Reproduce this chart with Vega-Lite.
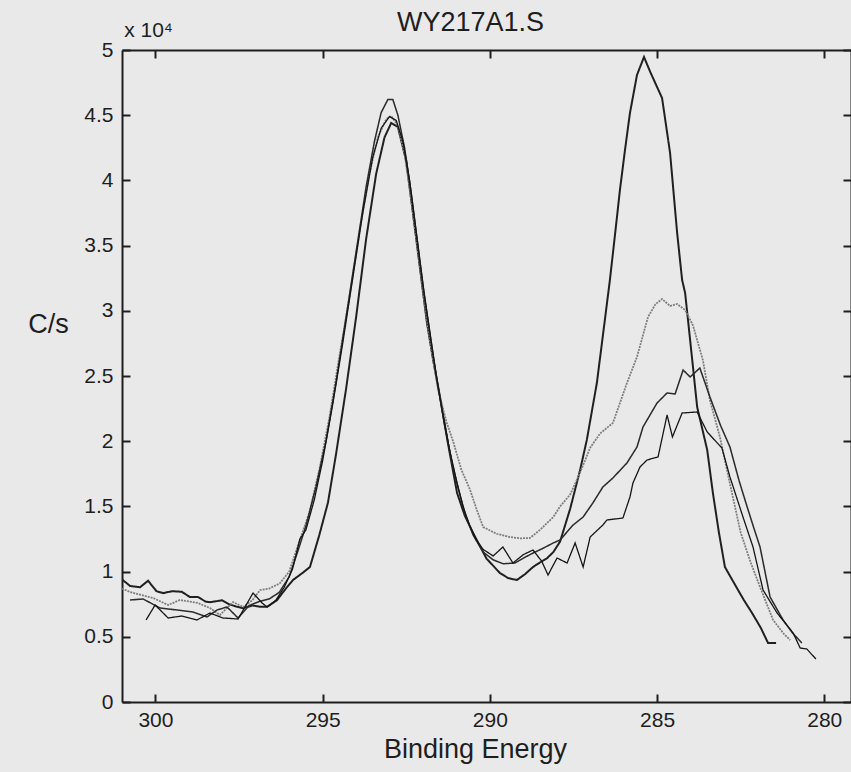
{
  "$schema": "https://vega.github.io/schema/vega-lite/v6.json",
  "width": 729,
  "height": 652,
  "autosize": "none",
  "padding": {"left": 122, "top": 50, "right": 0, "bottom": 70},
  "background": "#e9e9e9",
  "title": {"text": "WY217A1.S", "font": "Liberation Sans", "fontSize": 27, "fontWeight": "normal", "color": "#1e1e1e", "anchor": "middle", "frame": "group", "dx": -16, "dy": 22},
  "config": {
    "view": {"stroke": null},
    "axis": {"grid": false, "domainColor": "#1e1e1e", "domainWidth": 2, "tickColor": "#1e1e1e", "tickWidth": 2, "tickSize": -8, "labelFont": "Liberation Sans", "labelFontSize": 21, "labelColor": "#1e1e1e", "titleFont": "Liberation Sans", "titleFontWeight": "normal", "titleColor": "#1e1e1e"}
  },
  "data": {"values": [
    {"s":"A","e":301.0,"c":9400},{"s":"A","e":300.76,"c":8900},{"s":"A","e":300.46,"c":8800},{"s":"A","e":300.22,"c":9300},{"s":"A","e":299.97,"c":8500},{"s":"A","e":299.77,"c":8350},{"s":"A","e":299.5,"c":8500},{"s":"A","e":299.21,"c":8450},{"s":"A","e":298.97,"c":8050},{"s":"A","e":298.73,"c":8050},{"s":"A","e":298.5,"c":7700},{"s":"A","e":298.37,"c":7650},{"s":"A","e":298.01,"c":7800},{"s":"A","e":297.8,"c":7500},{"s":"A","e":297.56,"c":7300},{"s":"A","e":297.38,"c":7200},{"s":"A","e":297.1,"c":7400},{"s":"A","e":296.85,"c":7300},{"s":"A","e":296.66,"c":7300},{"s":"A","e":296.37,"c":7800},{"s":"A","e":296.1,"c":8700},{"s":"A","e":295.89,"c":9350},{"s":"A","e":295.6,"c":9900},{"s":"A","e":295.38,"c":10350},{"s":"A","e":295.1,"c":12800},{"s":"A","e":294.84,"c":15300},{"s":"A","e":294.6,"c":19000},{"s":"A","e":294.3,"c":24000},{"s":"A","e":294.0,"c":29500},{"s":"A","e":293.7,"c":35500},{"s":"A","e":293.4,"c":40500},{"s":"A","e":293.15,"c":43300},{"s":"A","e":292.95,"c":44400},{"s":"A","e":292.75,"c":44100},{"s":"A","e":292.5,"c":41500},{"s":"A","e":292.2,"c":35500},{"s":"A","e":291.88,"c":29070},{"s":"A","e":291.7,"c":26300},{"s":"A","e":291.49,"c":23390},{"s":"A","e":291.25,"c":19800},{"s":"A","e":290.98,"c":16030},{"s":"A","e":290.75,"c":14300},{"s":"A","e":290.5,"c":12960},{"s":"A","e":290.1,"c":11000},{"s":"A","e":289.7,"c":9893},{"s":"A","e":289.45,"c":9500},{"s":"A","e":289.19,"c":9356},{"s":"A","e":288.95,"c":9800},{"s":"A","e":288.71,"c":10353},{"s":"A","e":288.5,"c":10700},{"s":"A","e":288.3,"c":11000},{"s":"A","e":288.1,"c":11500},{"s":"A","e":287.9,"c":12300},{"s":"A","e":287.6,"c":14800},{"s":"A","e":287.3,"c":17800},{"s":"A","e":287.1,"c":20100},{"s":"A","e":286.8,"c":24460},{"s":"A","e":286.6,"c":28500},{"s":"A","e":286.41,"c":32360},{"s":"A","e":286.25,"c":36000},{"s":"A","e":286.11,"c":39265},{"s":"A","e":285.95,"c":42500},{"s":"A","e":285.81,"c":45170},{"s":"A","e":285.6,"c":48085},{"s":"A","e":285.39,"c":49465},{"s":"A","e":285.2,"c":48300},{"s":"A","e":285.0,"c":47164},{"s":"A","e":284.85,"c":46320},{"s":"A","e":284.61,"c":42100},{"s":"A","e":284.4,"c":36000},{"s":"A","e":284.25,"c":32360},{"s":"A","e":284.16,"c":31370},{"s":"A","e":284.0,"c":27500},{"s":"A","e":283.8,"c":22620},{"s":"A","e":283.5,"c":19330},{"s":"A","e":283.33,"c":16030},{"s":"A","e":283.15,"c":13000},{"s":"A","e":282.97,"c":10350},{"s":"A","e":282.63,"c":8820},{"s":"A","e":282.4,"c":7800},{"s":"A","e":282.16,"c":6830},{"s":"A","e":281.9,"c":5700},{"s":"A","e":281.68,"c":4525},{"s":"A","e":281.44,"c":4525},
    {"s":"B","e":301.0,"c":8700},{"s":"B","e":300.76,"c":8436},{"s":"B","e":300.4,"c":8200},{"s":"B","e":300.07,"c":7976},{"s":"B","e":299.62,"c":7439},{"s":"B","e":299.27,"c":7822},{"s":"B","e":298.73,"c":7592},{"s":"B","e":298.37,"c":7209},{"s":"B","e":298.07,"c":6672},{"s":"B","e":297.68,"c":7669},{"s":"B","e":297.38,"c":7286},{"s":"B","e":297.1,"c":7800},{"s":"B","e":296.87,"c":8589},{"s":"B","e":296.6,"c":8700},{"s":"B","e":296.28,"c":9100},{"s":"B","e":296.0,"c":10000},{"s":"B","e":295.7,"c":12300},{"s":"B","e":295.4,"c":14500},{"s":"B","e":295.1,"c":17800},{"s":"B","e":294.8,"c":21800},{"s":"B","e":294.5,"c":26500},{"s":"B","e":294.2,"c":31000},{"s":"B","e":293.9,"c":36000},{"s":"B","e":293.6,"c":40500},{"s":"B","e":293.35,"c":43300},{"s":"B","e":293.1,"c":44700},{"s":"B","e":292.95,"c":44940},{"s":"B","e":292.75,"c":44200},{"s":"B","e":292.55,"c":42000},{"s":"B","e":292.35,"c":38500},{"s":"B","e":292.15,"c":34500},{"s":"B","e":291.95,"c":30500},{"s":"B","e":291.75,"c":27000},{"s":"B","e":291.55,"c":24000},{"s":"B","e":291.3,"c":21500},{"s":"B","e":291.1,"c":20000},{"s":"B","e":290.85,"c":17800},{"s":"B","e":290.59,"c":16260},{"s":"B","e":290.4,"c":14800},{"s":"B","e":290.2,"c":13420},{"s":"B","e":289.8,"c":12900},{"s":"B","e":289.4,"c":12650},{"s":"B","e":289.1,"c":12550},{"s":"B","e":288.8,"c":12580},{"s":"B","e":288.5,"c":13200},{"s":"B","e":288.1,"c":14190},{"s":"B","e":287.9,"c":15000},{"s":"B","e":287.6,"c":15900},{"s":"B","e":287.3,"c":17600},{"s":"B","e":287.0,"c":19500},{"s":"B","e":286.7,"c":20600},{"s":"B","e":286.32,"c":21397},{"s":"B","e":286.1,"c":23000},{"s":"B","e":285.9,"c":24464},{"s":"B","e":285.6,"c":26458},{"s":"B","e":285.27,"c":29526},{"s":"B","e":285.05,"c":30500},{"s":"B","e":284.85,"c":30906},{"s":"B","e":284.61,"c":30370},{"s":"B","e":284.4,"c":30523},{"s":"B","e":284.16,"c":30062},{"s":"B","e":283.93,"c":28912},{"s":"B","e":283.63,"c":26228},{"s":"B","e":283.42,"c":23160},{"s":"B","e":283.12,"c":20323},{"s":"B","e":282.8,"c":16500},{"s":"B","e":282.5,"c":13000},{"s":"B","e":282.2,"c":10700},{"s":"B","e":281.92,"c":8819},{"s":"B","e":281.53,"c":6289},{"s":"B","e":281.2,"c":5200},{"s":"B","e":281.02,"c":4755},
    {"s":"C","e":300.76,"c":7822},{"s":"C","e":300.37,"c":7899},{"s":"C","e":299.86,"c":7209},{"s":"C","e":299.36,"c":7055},{"s":"C","e":298.88,"c":6902},{"s":"C","e":298.46,"c":6519},{"s":"C","e":298.16,"c":7055},{"s":"C","e":297.86,"c":7286},{"s":"C","e":297.53,"c":6442},{"s":"C","e":297.2,"c":7400},{"s":"C","e":296.9,"c":7700},{"s":"C","e":296.6,"c":7900},{"s":"C","e":296.3,"c":8400},{"s":"C","e":296.0,"c":9600},{"s":"C","e":295.75,"c":11500},{"s":"C","e":295.5,"c":13500},{"s":"C","e":295.2,"c":16500},{"s":"C","e":294.9,"c":20000},{"s":"C","e":294.6,"c":24500},{"s":"C","e":294.3,"c":29500},{"s":"C","e":294.0,"c":34500},{"s":"C","e":293.7,"c":39500},{"s":"C","e":293.45,"c":43000},{"s":"C","e":293.25,"c":45200},{"s":"C","e":293.05,"c":46200},{"s":"C","e":292.9,"c":46200},{"s":"C","e":292.75,"c":45000},{"s":"C","e":292.55,"c":42500},{"s":"C","e":292.35,"c":39000},{"s":"C","e":292.15,"c":35000},{"s":"C","e":291.95,"c":31000},{"s":"C","e":291.75,"c":27500},{"s":"C","e":291.55,"c":24200},{"s":"C","e":291.35,"c":21200},{"s":"C","e":291.15,"c":18600},{"s":"C","e":290.95,"c":16400},{"s":"C","e":290.75,"c":14500},{"s":"C","e":290.5,"c":12800},{"s":"C","e":290.2,"c":11500},{"s":"C","e":289.9,"c":10900},{"s":"C","e":289.6,"c":10600},{"s":"C","e":289.25,"c":10660},{"s":"C","e":288.95,"c":11100},{"s":"C","e":288.7,"c":11430},{"s":"C","e":288.4,"c":11800},{"s":"C","e":288.1,"c":12200},{"s":"C","e":287.9,"c":12424},{"s":"C","e":287.51,"c":13574},{"s":"C","e":287.21,"c":14188},{"s":"C","e":286.92,"c":15261},{"s":"C","e":286.62,"c":16488},{"s":"C","e":286.32,"c":17179},{"s":"C","e":285.9,"c":18329},{"s":"C","e":285.6,"c":19556},{"s":"C","e":285.42,"c":21090},{"s":"C","e":285.0,"c":22930},{"s":"C","e":284.7,"c":23697},{"s":"C","e":284.46,"c":23621},{"s":"C","e":284.22,"c":25461},{"s":"C","e":284.01,"c":24924},{"s":"C","e":283.72,"c":25614},{"s":"C","e":283.42,"c":23400},{"s":"C","e":283.1,"c":21200},{"s":"C","e":282.82,"c":19556},{"s":"C","e":282.55,"c":17000},{"s":"C","e":282.31,"c":15000},{"s":"C","e":282.1,"c":13300},{"s":"C","e":281.92,"c":11887},{"s":"C","e":281.62,"c":8052},{"s":"C","e":281.23,"c":6289},{"s":"C","e":280.95,"c":5300},{"s":"C","e":280.67,"c":4525},
    {"s":"D","e":300.28,"c":6289},{"s":"D","e":300.01,"c":7439},{"s":"D","e":299.62,"c":6442},{"s":"D","e":299.21,"c":6595},{"s":"D","e":298.76,"c":6289},{"s":"D","e":298.37,"c":6825},{"s":"D","e":297.98,"c":6442},{"s":"D","e":297.53,"c":6365},{"s":"D","e":297.08,"c":8359},{"s":"D","e":296.81,"c":7592},{"s":"D","e":296.66,"c":7286},{"s":"D","e":296.4,"c":7800},{"s":"D","e":296.15,"c":8800},{"s":"D","e":295.9,"c":10200},{"s":"D","e":295.68,"c":12500},{"s":"D","e":295.5,"c":13200},{"s":"D","e":295.25,"c":15500},{"s":"D","e":295.0,"c":18500},{"s":"D","e":294.7,"c":22800},{"s":"D","e":294.4,"c":27500},{"s":"D","e":294.1,"c":32500},{"s":"D","e":293.8,"c":37500},{"s":"D","e":293.5,"c":41800},{"s":"D","e":293.25,"c":44000},{"s":"D","e":293.0,"c":44900},{"s":"D","e":292.8,"c":44600},{"s":"D","e":292.6,"c":43000},{"s":"D","e":292.4,"c":40000},{"s":"D","e":292.2,"c":36000},{"s":"D","e":292.0,"c":32000},{"s":"D","e":291.8,"c":28500},{"s":"D","e":291.6,"c":25000},{"s":"D","e":291.4,"c":22000},{"s":"D","e":291.2,"c":19300},{"s":"D","e":291.0,"c":17000},{"s":"D","e":290.8,"c":15000},{"s":"D","e":290.6,"c":13500},{"s":"D","e":290.4,"c":12400},{"s":"D","e":290.2,"c":11700},{"s":"D","e":289.9,"c":11200},{"s":"D","e":289.61,"c":11887},{"s":"D","e":289.31,"c":10660},{"s":"D","e":289.0,"c":11300},{"s":"D","e":288.71,"c":11657},{"s":"D","e":288.45,"c":10800},{"s":"D","e":288.26,"c":9740},{"s":"D","e":287.99,"c":11043},{"s":"D","e":287.69,"c":10660},{"s":"D","e":287.45,"c":12194},{"s":"D","e":287.21,"c":10353},{"s":"D","e":287.0,"c":12654},{"s":"D","e":286.62,"c":13574},{"s":"D","e":286.5,"c":13958},{"s":"D","e":286.02,"c":14111},{"s":"D","e":285.81,"c":15721},{"s":"D","e":285.72,"c":16795},{"s":"D","e":285.51,"c":18022},{"s":"D","e":285.3,"c":18559},{"s":"D","e":284.97,"c":18789},{"s":"D","e":284.7,"c":22010},{"s":"D","e":284.54,"c":20323},{"s":"D","e":284.25,"c":22163},{"s":"D","e":283.8,"c":22240},{"s":"D","e":283.5,"c":20706},{"s":"D","e":283.06,"c":19479},{"s":"D","e":282.82,"c":17255},{"s":"D","e":282.43,"c":14188},{"s":"D","e":282.13,"c":11887},{"s":"D","e":281.83,"c":8589},{"s":"D","e":281.41,"c":6825},{"s":"D","e":280.93,"c":5292},{"s":"D","e":280.72,"c":4141},{"s":"D","e":280.52,"c":4065},{"s":"D","e":280.25,"c":3298}
  ]},
  "resolve": {"axis": {"x": "independent", "y": "independent"}},
  "layer": [
    {
      "mark": {"type": "line", "clip": true},
      "encoding": {
        "x": {"field": "e", "type": "quantitative", "scale": {"domain": [279.2, 301], "reverse": true, "nice": false, "zero": false},
          "axis": {"orient": "bottom", "values": [300, 295, 290, 285, 280], "labelPadding": 15, "labelBaseline": "top", "title": "Binding Energy", "titleFontSize": 27, "titleX": 353, "titleY": 55, "titleAlign": "center", "titleBaseline": "alphabetic", "titleAnchor": null}},
        "y": {"field": "c", "type": "quantitative", "scale": {"domain": [0, 50000], "nice": false},
          "axis": {"orient": "left", "values": [0, 5000, 10000, 15000, 20000, 25000, 30000, 35000, 40000, 45000, 50000], "labelExpr": "datum.value / 10000 + ''", "labelPadding": 17, "title": "C/s", "titleAngle": 0, "titleFontSize": 27, "titleX": -74, "titleY": 282, "titleAlign": "center", "titleBaseline": "alphabetic", "titleAnchor": null}},
        "color": {"field": "s", "type": "nominal", "scale": {"domain": ["A", "B", "C", "D"], "range": ["#202020", "#7d7d7d", "#2c2c2c", "#161616"]}, "legend": null},
        "strokeWidth": {"field": "s", "type": "nominal", "scale": {"domain": ["A", "B", "C", "D"], "range": [2.0, 1.3, 1.5, 2.8]}, "legend": null},
        "strokeDash": {"field": "s", "type": "nominal", "scale": {"domain": ["A", "B", "C", "D"], "range": [[1, 0], [2, 1], [1, 0], [1, 0]]}, "legend": null}
      }
    },
    {
      "mark": {"type": "line", "strokeOpacity": 0, "clip": true},
      "encoding": {
        "x": {"field": "e", "type": "quantitative",
          "axis": {"orient": "top", "values": [300, 295, 290, 285, 280], "labels": false, "title": "x 10⁴", "titleFontSize": 21, "titleX": 26, "titleY": -14, "titleAlign": "center", "titleBaseline": "alphabetic", "titleAnchor": null}},
        "y": {"field": "c", "type": "quantitative",
          "axis": {"orient": "right", "values": [0, 5000, 10000, 15000, 20000, 25000, 30000, 35000, 40000, 45000, 50000], "labels": false, "title": null}},
        "detail": {"field": "s"}
      }
    }
  ]
}
